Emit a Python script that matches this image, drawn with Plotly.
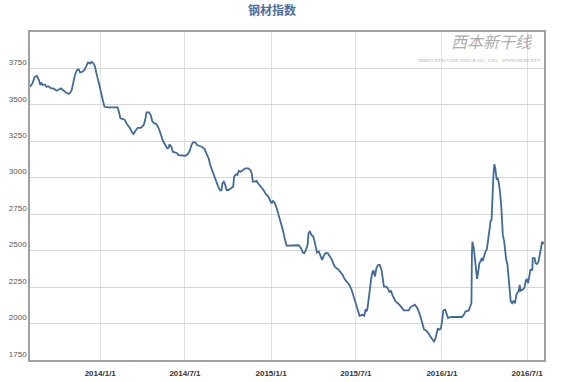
import plotly.graph_objects as go

title_text = "钢材指数"

dates = [
    "2013-08-04", "2013-08-09", "2013-08-14", "2013-08-19", "2013-08-23", "2013-08-26", "2013-08-28", "2013-08-31",
    "2013-09-05", "2013-09-08", "2013-09-13", "2013-09-18", "2013-09-23", "2013-09-30", "2013-10-05", "2013-10-09",
    "2013-10-14", "2013-10-19", "2013-10-25", "2013-10-28", "2013-11-01", "2013-11-04", "2013-11-08", "2013-11-12",
    "2013-11-16", "2013-11-19", "2013-11-24", "2013-11-28", "2013-12-02", "2013-12-06", "2013-12-11", "2013-12-13",
    "2013-12-18", "2013-12-21", "2013-12-24", "2013-12-28", "2013-12-31",
    "2014-01-04", "2014-01-07", "2014-01-10", "2014-01-18", "2014-02-07", "2014-02-10", "2014-02-13", "2014-02-19",
    "2014-02-23", "2014-02-26", "2014-03-02", "2014-03-06", "2014-03-10", "2014-03-13", "2014-03-17", "2014-03-22",
    "2014-03-29", "2014-04-04", "2014-04-07", "2014-04-10", "2014-04-15", "2014-04-19", "2014-04-22", "2014-04-26",
    "2014-05-01", "2014-05-06", "2014-05-11", "2014-05-15", "2014-05-20", "2014-05-24", "2014-05-27", "2014-05-29",
    "2014-06-02", "2014-06-05", "2014-06-09", "2014-06-14", "2014-06-17", "2014-06-25", "2014-07-02", "2014-07-07",
    "2014-07-11", "2014-07-15", "2014-07-18", "2014-07-23", "2014-07-27", "2014-08-01", "2014-08-06", "2014-08-12",
    "2014-08-17", "2014-08-21", "2014-08-24", "2014-08-28", "2014-08-31", "2014-09-05", "2014-09-10", "2014-09-14",
    "2014-09-17", "2014-09-19", "2014-09-22", "2014-09-25", "2014-09-28", "2014-10-02", "2014-10-08", "2014-10-12",
    "2014-10-14", "2014-10-18", "2014-10-21", "2014-10-24", "2014-10-28", "2014-11-01", "2014-11-07", "2014-11-13",
    "2014-11-18", "2014-11-21", "2014-11-23", "2014-11-27", "2014-12-01", "2014-12-04", "2014-12-09", "2014-12-13",
    "2014-12-17", "2014-12-21", "2014-12-26", "2014-12-28",
    "2015-01-02", "2015-01-05", "2015-01-09", "2015-01-13", "2015-01-17", "2015-01-21", "2015-01-26", "2015-01-30",
    "2015-02-03", "2015-03-01", "2015-03-06", "2015-03-10", "2015-03-13", "2015-03-17", "2015-03-20", "2015-03-22",
    "2015-03-25", "2015-03-28", "2015-04-01", "2015-04-04", "2015-04-07", "2015-04-09", "2015-04-13", "2015-04-16",
    "2015-04-20", "2015-04-23", "2015-04-27", "2015-05-02", "2015-05-07", "2015-05-11", "2015-05-15", "2015-05-18",
    "2015-05-24", "2015-05-29", "2015-06-03", "2015-06-07", "2015-06-12", "2015-06-17", "2015-06-22", "2015-06-26",
    "2015-06-30", "2015-07-04", "2015-07-06", "2015-07-09", "2015-07-15", "2015-07-19", "2015-07-22", "2015-07-24",
    "2015-07-26", "2015-07-29", "2015-08-01", "2015-08-03", "2015-08-06", "2015-08-08", "2015-08-11", "2015-08-14",
    "2015-08-18", "2015-08-21", "2015-08-25", "2015-08-28", "2015-08-30", "2015-09-04", "2015-09-07", "2015-09-11",
    "2015-09-14", "2015-09-17", "2015-09-20", "2015-09-24", "2015-09-30", "2015-10-04", "2015-10-08", "2015-10-11",
    "2015-10-22", "2015-10-26", "2015-10-31", "2015-11-04", "2015-11-08", "2015-11-11", "2015-11-16", "2015-11-20",
    "2015-11-24", "2015-11-28", "2015-12-03", "2015-12-07", "2015-12-11", "2015-12-15", "2015-12-18", "2015-12-21",
    "2015-12-23", "2015-12-27", "2015-12-30",
    "2016-01-02", "2016-01-04", "2016-01-08", "2016-01-11", "2016-01-14", "2016-01-17", "2016-01-23", "2016-02-03",
    "2016-02-13", "2016-02-18", "2016-02-20", "2016-02-27", "2016-03-01", "2016-03-04", "2016-03-05", "2016-03-06",
    "2016-03-09", "2016-03-13", "2016-03-16", "2016-03-19", "2016-03-21", "2016-03-24", "2016-03-26", "2016-03-28",
    "2016-03-31", "2016-04-03", "2016-04-06", "2016-04-07", "2016-04-10", "2016-04-12", "2016-04-14", "2016-04-16",
    "2016-04-17", "2016-04-20", "2016-04-22", "2016-04-24", "2016-04-27", "2016-04-29", "2016-05-01", "2016-05-04",
    "2016-05-07", "2016-05-10", "2016-05-13", "2016-05-16", "2016-05-17", "2016-05-20", "2016-05-22", "2016-05-24",
    "2016-05-27", "2016-05-30", "2016-06-02", "2016-06-05", "2016-06-08", "2016-06-11", "2016-06-13", "2016-06-15",
    "2016-06-17", "2016-06-21", "2016-06-25", "2016-06-28", "2016-06-30", "2016-07-03", "2016-07-06", "2016-07-08",
    "2016-07-12", "2016-07-13", "2016-07-17", "2016-07-19", "2016-07-22", "2016-07-25", "2016-07-28", "2016-07-30",
    "2016-08-02", "2016-08-05",
]

index_values = [
    3624, 3647, 3692, 3699, 3670, 3636, 3654, 3636,
    3640, 3624, 3627, 3613, 3613, 3597, 3606, 3613,
    3601, 3586, 3576, 3579, 3601, 3647, 3704, 3738,
    3743, 3723, 3727, 3738, 3761, 3791, 3784, 3795,
    3784, 3761, 3716, 3670, 3624,
    3567, 3521, 3487, 3483, 3483, 3453, 3408, 3403,
    3396, 3373, 3357, 3339, 3312, 3300, 3321, 3343,
    3343, 3362, 3396, 3449, 3449, 3430, 3389, 3373,
    3369, 3339, 3293, 3252, 3225, 3202, 3206, 3229,
    3213, 3179, 3175, 3168, 3156, 3151, 3151, 3161,
    3184, 3225, 3243, 3243, 3225, 3218, 3213, 3197,
    3161, 3129, 3088, 3053, 3019, 2978, 2939, 2914,
    2914, 2962, 2973, 2951, 2916, 2916, 2928, 2939,
    3008, 3024, 3019, 3047, 3042, 3053, 3065, 3065,
    3053, 3024, 2973, 2973, 2978, 2962, 2946, 2928,
    2910, 2887, 2871, 2855,
    2825, 2841, 2825, 2791, 2750, 2699, 2643, 2586,
    2535, 2537, 2517, 2487, 2483, 2510, 2540, 2620,
    2631, 2608, 2597, 2562, 2528, 2487, 2494, 2464,
    2437, 2460, 2483, 2483, 2460, 2437, 2403, 2387,
    2373, 2350, 2334, 2305, 2282, 2266, 2232, 2190,
    2156, 2117, 2083, 2053, 2060, 2053, 2099, 2083,
    2106, 2186, 2243, 2312, 2357, 2364, 2323, 2380,
    2403, 2403, 2368, 2300, 2254, 2254, 2243, 2213,
    2227, 2197, 2175, 2151, 2136, 2122, 2106, 2090,
    2090, 2113, 2122, 2129, 2113, 2095, 2049, 2004,
    1958, 1953, 1935, 1912, 1896, 1877, 1896, 1935,
    1964, 1958, 1969,
    2038, 2090, 2095, 2072, 2038, 2042, 2045, 2045,
    2045, 2067, 2083, 2088, 2110, 2140, 2471, 2562,
    2517, 2380, 2307, 2368, 2414, 2430, 2449, 2430,
    2471, 2494, 2510, 2540, 2608, 2677, 2704, 2711,
    2836, 3019, 3093, 3065, 2985, 3001, 2973, 2905,
    2791, 2608, 2562, 2471, 2444, 2403, 2312, 2220,
    2151, 2140, 2156, 2138, 2197, 2216, 2220, 2266,
    2225, 2232, 2243, 2293, 2307, 2277, 2357, 2368,
    2368, 2449, 2449, 2414, 2408, 2425, 2471, 2506,
    2562, 2545,
]

x_tick_dates = ["2014-01-01", "2014-07-01", "2015-01-01", "2015-07-01", "2016-01-01", "2016-07-01"]
x_tick_labels = ["2014/1/1", "2014/7/1", "2015/1/1", "2015/7/1", "2016/1/1", "2016/7/1"]
y_tick_values = [1750, 2000, 2250, 2500, 2750, 3000, 3250, 3500, 3750]
y_tick_labels = [str(v) for v in y_tick_values]

watermark_cn = "西本新干线"
watermark_en = "XIBEN NEW LINE STOCK CO., LTD.   WWW.96369.NET"

fig = go.Figure()
fig.add_trace(go.Scatter(
    x=dates, y=index_values, mode="lines",
    line=dict(color="#3f6a9e", width=1.8),
    showlegend=False,
))

fig.update_layout(
    template="none",
    width=562, height=382,
    margin=dict(l=30, r=18, t=32, b=22, autoexpand=False),
    paper_bgcolor="white", plot_bgcolor="white",
    title=dict(
        text="<b>" + title_text + "</b>",
        x=272 / 562, xanchor="center", xref="container",
        y=1 - 11 / 382, yanchor="middle", yref="container",
        automargin=False,
        font=dict(family="Noto Sans CJK SC", size=12, color="#4f6f9f"),
    ),
    xaxis=dict(
        type="date", automargin=False,
        range=["2013-08-04", "2016-08-06"],
        tickvals=x_tick_dates, ticktext=x_tick_labels,
        showgrid=True, gridcolor="#e0e0e0", gridwidth=1,
        showline=True, linecolor="#a0a0a0", linewidth=1.5, mirror=True,
        ticks="outside", ticklen=5, tickcolor="rgba(0,0,0,0)",
        tickfont=dict(family="Liberation Sans", size=8, color="#333333", weight="bold"),
        zeroline=False,
    ),
    yaxis=dict(
        automargin=False,
        range=[1750, 4000],
        tickvals=y_tick_values, ticktext=y_tick_labels,
        showgrid=True, gridcolor="#d6d6d6", gridwidth=1,
        showline=True, linecolor="#a0a0a0", linewidth=1.5, mirror=True,
        ticks="outside", ticklen=10, tickcolor="rgba(0,0,0,0)",
        ticklabelposition="outside top",
        tickfont=dict(family="Liberation Sans", size=8, color="#555555"),
        zeroline=False,
    ),
    annotations=[
        dict(text="<i>" + watermark_cn + "</i>", xref="paper", yref="paper",
             x=(492 - 30) / 514, y=(360 - 41) / 328, xanchor="center", yanchor="middle",
             showarrow=False, font=dict(family="Noto Sans CJK SC", size=16, color="#adadad")),
        dict(text=watermark_en, xref="paper", yref="paper",
             x=(479 - 30) / 514, y=(360 - 61) / 328, xanchor="center", yanchor="middle",
             showarrow=False, font=dict(family="Liberation Serif", size=5, color="#b0b0b0")),
    ],
)

fig.write_html(
    "out.html",
    config={"displayModeBar": False},
    post_script="document.body.style.margin='0';document.body.style.padding='0';",
)
